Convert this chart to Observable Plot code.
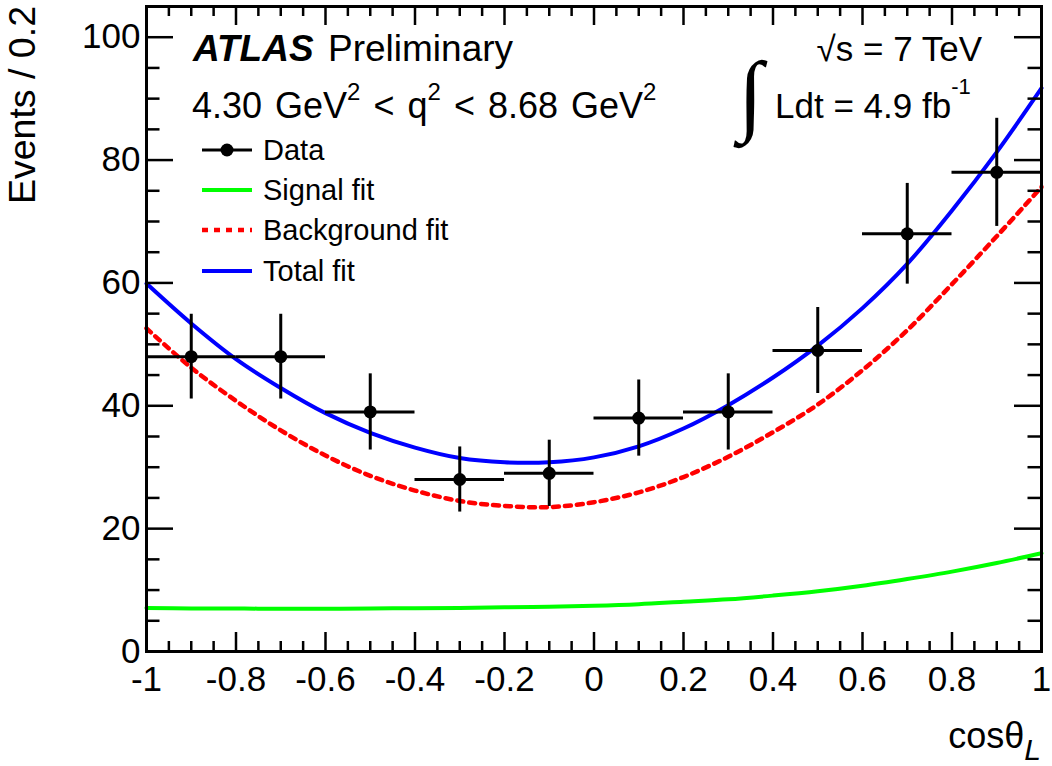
<!DOCTYPE html>
<html><head><meta charset="utf-8">
<script src="https://cdn.jsdelivr.net/npm/d3@7"></script>
<script src="https://cdn.jsdelivr.net/npm/@observablehq/plot@0.6"></script>
<style>
body{margin:0;background:#fff;}
#chart svg{font-family:"Liberation Sans",Arial,Helvetica,sans-serif;}
</style></head><body><div id="chart"></div>
<script>
// ---- data ----
const binCenters = [-0.9,-0.7,-0.5,-0.3,-0.1,0.1,0.3,0.5,0.7,0.9];
const binHalfWidth = 0.1;
const dataCounts = [48,48,39,28,29,38,39,49,68,78];
const dataErrors = [6.9,6.9,6.2,5.3,5.4,6.2,6.2,7.0,8.2,8.8];

const fitX = [-1,-0.9,-0.8,-0.7,-0.6,-0.5,-0.4,-0.3,-0.2,-0.1,0,0.1,0.2,0.3,0.4,0.5,0.6,0.7,0.8,0.9,1];
const totalFit = [59.9,53.4,47.6,42.9,38.8,35.6,33.2,31.5,30.8,30.8,31.6,33.4,36.3,40.1,44.6,49.8,55.9,63.1,71.8,81.3,91.7];
const backgroundFit = [52.6,46.2,40.8,36.0,31.9,28.6,26.2,24.5,23.7,23.5,24.3,25.9,28.4,31.7,35.7,40.2,45.8,52.3,59.8,67.6,75.6];
const signalFit = [7.1,7.0,7.0,6.95,6.95,7.0,7.05,7.1,7.2,7.3,7.45,7.7,8.1,8.5,9.1,9.8,10.7,11.8,13.0,14.4,16.0];

const xTicks = [-1,-0.8,-0.6,-0.4,-0.2,0,0.2,0.4,0.6,0.8,1];
const xTickLabels = ["-1","-0.8","-0.6","-0.4","-0.2","0","0.2","0.4","0.6","0.8","1"];
const yTicks = [0,20,40,60,80,100];
const yTickLabels = ["0","20","40","60","80","100"];
const xMajorInner = [-0.8,-0.6,-0.4,-0.2,0,0.2,0.4,0.6,0.8];
const yMajorInner = [20,40,60,80,100];
const xMinorTicks = [-0.95,-0.9,-0.85,-0.75,-0.7,-0.65,-0.55,-0.5,-0.45,-0.35,-0.3,-0.25,-0.15,-0.1,-0.05,0.05,0.1,0.15,0.25,0.3,0.35,0.45,0.5,0.55,0.65,0.7,0.75,0.85,0.9,0.95];
const yMinorTicks = [5,10,15,25,30,35,45,50,55,65,70,75,85,90,95];

const legendLabels = ["Data","Signal fit","Background fit","Total fit"];

// ---- tables ----
const points = binCenters.map((x,i)=>({x, y: dataCounts[i], e: dataErrors[i]}));
const fits = fitX.map((x,i)=>({x, total: totalFit[i], bkg: backgroundFit[i], sig: signalFit[i]}));

const W = 1052, H = 766, ML = 146, MR = 11, MT = 6, MB = 115;
const FW = W - ML - MR, FH = H - MT - MB;
const X0 = -1, X1 = 1, Y0 = 0, Y1 = 105;
const FONT = '"Liberation Sans",Arial,Helvetica,sans-serif';
// tick lengths in pixels, turned into data units of each scale
const pxY = len => len * (Y1 - Y0) / FH;
const pxX = len => len * (X1 - X0) / FW;
const tickSt = {stroke: "black", strokeWidth: 2.5};
function xTickRules(vals, len) {
  return [
    Plot.ruleX(vals, {x: d => d, y1: Y0, y2: Y0 + pxY(len), ...tickSt}),
    Plot.ruleX(vals, {x: d => d, y1: Y1 - pxY(len), y2: Y1, ...tickSt})
  ];
}
function yTickRules(vals, len) {
  return [
    Plot.ruleY(vals, {y: d => d, x1: X0, x2: X0 + pxX(len), ...tickSt}),
    Plot.ruleY(vals, {y: d => d, x1: X1 - pxX(len), x2: X1, ...tickSt})
  ];
}

const svg = Plot.plot({
  width: W, height: H,
  marginLeft: ML, marginRight: MR, marginTop: MT, marginBottom: MB,
  x: {domain: [X0, X1]},
  y: {domain: [Y0, Y1]},
  style: {fontFamily: FONT, background: "white", color: "black"},
  marks: [
    Plot.line(fits, {x: "x", y: "sig", stroke: "#00ff00", strokeWidth: 4, curve: "catmull-rom"}),
    Plot.line(fits, {x: "x", y: "bkg", stroke: "#ff0000", strokeWidth: 4.5, strokeDasharray: "6,6", curve: "catmull-rom"}),
    Plot.line(fits, {x: "x", y: "total", stroke: "#0000ff", strokeWidth: 4, curve: "catmull-rom"}),
    Plot.ruleY(points, {y: "y", x1: d => d.x - binHalfWidth, x2: d => d.x + binHalfWidth, stroke: "black", strokeWidth: 3}),
    Plot.ruleX(points, {x: "x", y1: d => d.y - d.e, y2: d => d.y + d.e, stroke: "black", strokeWidth: 3}),
    Plot.dot(points, {x: "x", y: "y", r: 6.5, fill: "black", stroke: "none"}),
    ...xTickRules(xMinorTicks, 10),
    ...xTickRules(xMajorInner, 19),
    ...yTickRules(yMinorTicks, 13.5),
    ...yTickRules(yMajorInner, 27),
    Plot.axisX({anchor: "bottom", ticks: xTicks, tickSize: 0, tickPadding: 15, fontSize: 35, label: null,
      tickFormat: d => xTickLabels[xTicks.indexOf(d)]}),
    Plot.axisY({anchor: "left", ticks: yTicks, tickSize: 0, tickPadding: 6, fontSize: 35, label: null,
      tickFormat: d => yTickLabels[yTicks.indexOf(d)]}),
    Plot.frame({stroke: "black", strokeWidth: 3})
  ]
});

document.getElementById("chart").appendChild(svg);

const s = d3.select(svg);
const g = s.append("g").attr("font-family", FONT).attr("fill", "black").attr("text-anchor", "start");

// axis titles
g.append("text").attr("transform", "translate(35,6) rotate(-90)")
  .attr("text-anchor", "end").attr("font-size", 37.5).text("Events / 0.2");
const xt = g.append("text").attr("x", 1041).attr("y", 748).attr("text-anchor", "end").attr("font-size", 36);
xt.append("tspan").text("cosθ");
xt.append("tspan").attr("dy", 12).attr("font-size", 30).attr("font-style", "italic").text("L");

// ATLAS Preliminary
const at = g.append("text").attr("x", 193).attr("y", 61).attr("font-size", 37);
at.append("tspan").attr("font-weight", "bold").attr("font-style", "italic").text("ATLAS");
at.append("tspan").attr("x", 328).text("Preliminary");

// q2 range
const q = g.append("text").attr("x", 192).attr("y", 118).attr("font-size", 36).attr("word-spacing", 3);
q.append("tspan").text("4.30 GeV");
q.append("tspan").attr("dy", -18).attr("font-size", 24).text("2");
q.append("tspan").attr("dy", 18).text(" < q");
q.append("tspan").attr("dy", -18).attr("font-size", 24).text("2");
q.append("tspan").attr("dy", 18).text(" < 8.68 GeV");
q.append("tspan").attr("dy", -18).attr("font-size", 24).text("2");

// sqrt s and lumi
g.append("text").attr("x", 982).attr("y", 61).attr("text-anchor", "end").attr("font-size", 35).text("√s = 7 TeV");
g.append("text").attr("x", 738).attr("y", 124).attr("font-size", 90).attr("font-family", '"Liberation Serif","DejaVu Serif",serif').text("∫");
const l = g.append("text").attr("x", 775).attr("y", 118).attr("font-size", 35);
l.append("tspan").text("Ldt = 4.9 fb");
l.append("tspan").attr("dy", -24).attr("font-size", 22).text("-1");

// legend
const legendY = [150, 190, 230, 271];
const lg = s.append("g");
lg.append("line").attr("x1", 202).attr("x2", 252).attr("y1", legendY[0]).attr("y2", legendY[0]).attr("stroke", "black").attr("stroke-width", 3);
lg.append("circle").attr("cx", 227).attr("cy", legendY[0]).attr("r", 6.5).attr("fill", "black");
lg.append("line").attr("x1", 202).attr("x2", 252).attr("y1", legendY[1]).attr("y2", legendY[1]).attr("stroke", "#00ff00").attr("stroke-width", 4);
lg.append("line").attr("x1", 202).attr("x2", 252).attr("y1", legendY[2]).attr("y2", legendY[2]).attr("stroke", "#ff0000").attr("stroke-width", 4.5).attr("stroke-dasharray", "6,6");
lg.append("line").attr("x1", 202).attr("x2", 252).attr("y1", legendY[3]).attr("y2", legendY[3]).attr("stroke", "#0000ff").attr("stroke-width", 4);
legendLabels.forEach((t, i) => {
  lg.append("text").attr("x", 263).attr("y", legendY[i] + 10).attr("font-size", 29)
    .attr("font-family", FONT).attr("fill", "black").attr("text-anchor", "start").text(t);
});
</script></body></html>
